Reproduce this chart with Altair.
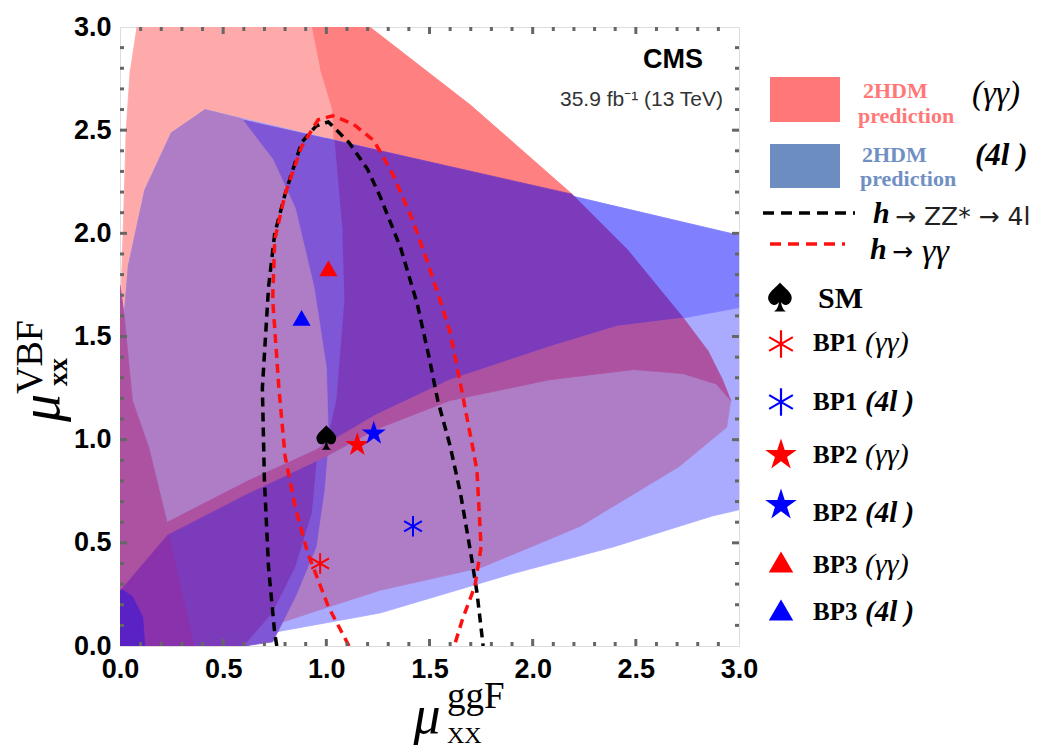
import altair as alt
import pandas as pd

# ---------------- axis data ----------------
AXIS_TICKS = [0.0, 0.5, 1.0, 1.5, 2.0, 2.5, 3.0]
MINOR_TICKS = [0.1, 0.2, 0.3, 0.4, 0.6, 0.7, 0.8, 0.9, 1.1, 1.2, 1.3, 1.4,
               1.6, 1.7, 1.8, 1.9, 2.1, 2.2, 2.3, 2.4, 2.6, 2.7, 2.8, 2.9]
MAJOR_TICKS = [0.5, 1.0, 1.5, 2.0, 2.5]

# ---------------- 2HDM prediction regions (painter's order) ----------------
PINK_X = [0.08, 1.21, 1.70, 2.19, 1.00, 0.41, 0.00, 0.005, 0.015, 0.03, 0.05]
PINK_Y = [3.00, 3.00, 2.62, 2.19, 2.20, 2.30, 1.50, 1.70, 2.00, 2.50, 2.80]

SALMON_X = [0.93, 1.21, 1.70, 2.19, 2.00, 1.04, 1.03, 0.97]
SALMON_Y = [3.00, 3.00, 2.62, 2.19, 2.10, 2.40, 2.60, 2.80]

LAVENDER_X = [0.41, 3.00, 3.00, 2.87, 2.39, 1.90, 1.26, 0.38, 0.00, 0.00, 0.02, 0.04, 0.12, 0.25]
LAVENDER_Y = [2.60, 1.99, 0.66, 0.63, 0.48, 0.35, 0.16, 0.00, 0.00, 1.45, 1.60, 1.84, 2.21, 2.49]

MEDBLUE_X = [1.00, 3.00, 3.00, 2.73, 1.00]
MEDBLUE_Y = [2.46, 1.99, 1.64, 1.59, 1.50]

VIOLET_UP_X = [0.55, 1.04, 1.09, 1.09, 1.05, 1.00, 0.90, 0.60]
VIOLET_UP_Y = [2.56, 2.45, 2.00, 1.68, 1.19, 0.97, 1.50, 2.40]

LOW_ELLIPSE_X = [0.00, 0.23, 0.62, 1.00, 1.24, 1.60, 2.08, 2.49, 2.73, 2.89, 2.96,
                 2.94, 2.71, 2.23, 1.75, 1.26, 0.95, 0.62, 0.30, 0.14, 0.00]
LOW_ELLIPSE_Y = [0.27, 0.54, 0.74, 0.92, 1.05, 1.19, 1.29, 1.34, 1.32, 1.27, 1.19,
                 1.06, 0.87, 0.58, 0.38, 0.27, 0.17, 0.06, 0.015, 0.00, 0.00]

LOW_LEFT_X = [0.00, 0.23, 0.62, 0.96, 0.93, 0.85, 0.74, 0.62, 0.00]
LOW_LEFT_Y = [0.30, 0.57, 0.78, 0.97, 0.64, 0.38, 0.16, 0.00, 0.00]

PURPLE2_X = [0.00, 0.23, 0.29, 0.36, 0.12, 0.00]
PURPLE2_Y = [0.30, 0.57, 0.30, 0.00, 0.00, 0.00]

DEEPBLUE_X = [0.00, 0.12, 0.11, 0.06, 0.00]
DEEPBLUE_Y = [0.00, 0.00, 0.14, 0.24, 0.28]

VIOLET_LOW_X = [0.96, 1.01, 0.99, 0.95, 0.85, 0.74, 0.60, 0.74, 0.85, 0.93]
VIOLET_LOW_Y = [0.97, 1.00, 0.76, 0.48, 0.24, 0.02, 0.00, 0.16, 0.38, 0.64]

LEFT_ELLIPSE_X = [0.41, 0.59, 0.74, 0.85, 0.94, 1.00, 1.01, 0.95, 0.62, 0.23,
                  0.14, 0.06, 0.02, 0.04, 0.12, 0.25]
LEFT_ELLIPSE_Y = [2.60, 2.555, 2.36, 2.12, 1.74, 1.35, 1.00, 0.95, 0.79, 0.59,
                  0.96, 1.19, 1.60, 1.84, 2.21, 2.49]

LEFT_STRIP_X = [0.00, 0.01, 0.02, 0.06, 0.14, 0.23, 0.00]
LEFT_STRIP_Y = [1.75, 1.68, 1.60, 1.19, 0.96, 0.59, 0.33]

CENTRAL_X = [1.04, 2.19, 2.46, 2.73, 2.41, 2.08, 1.60, 1.24, 1.00, 1.05, 1.09, 1.08]
CENTRAL_Y = [2.45, 2.19, 1.92, 1.59, 1.55, 1.45, 1.29, 1.12, 0.97, 1.19, 1.68, 2.00]

BAND_X = [0.00, 0.23, 0.62, 0.95, 1.24, 1.60, 2.08, 2.41, 2.73, 2.85, 2.92, 2.96,
          2.89, 2.73, 2.49, 2.08, 1.60, 1.24, 1.00, 0.62, 0.23, 0.00]
BAND_Y = [0.34, 0.60, 0.80, 0.95, 1.12, 1.29, 1.45, 1.55, 1.59, 1.43, 1.29, 1.19,
          1.27, 1.32, 1.34, 1.29, 1.19, 1.05, 0.92, 0.74, 0.54, 0.27]

# ---------------- measured contours ----------------
ZZ_X = [0.76, 0.75, 0.72, 0.70, 0.69, 0.72, 0.75, 0.80, 0.88, 0.95, 1.01, 1.11,
        1.20, 1.26, 1.36, 1.44, 1.50, 1.54, 1.60, 1.65, 1.70, 1.73, 1.76]
ZZ_Y = [0.00, 0.06, 0.38, 0.80, 1.25, 1.74, 2.00, 2.19, 2.44, 2.52, 2.54, 2.44,
        2.31, 2.18, 1.93, 1.66, 1.39, 1.19, 0.97, 0.74, 0.45, 0.26, 0.00]

GG_X = [1.11, 1.01, 0.91, 0.85, 0.80, 0.77, 0.74, 0.75, 0.80, 0.88, 0.96, 1.03, 1.13,
        1.23, 1.32, 1.42, 1.49, 1.55, 1.60, 1.65, 1.71, 1.73, 1.75, 1.72, 1.66, 1.62]
GG_Y = [0.00, 0.19, 0.45, 0.67, 0.92, 1.25, 1.68, 1.97, 2.19, 2.42, 2.55, 2.57, 2.53,
        2.45, 2.29, 2.06, 1.86, 1.68, 1.52, 1.27, 0.96, 0.85, 0.48, 0.29, 0.13, 0.00]

# ---------------- benchmark points ----------------
MARKER_NAMES = ["SM", "BP1 (γγ)", "BP1 (4l)", "BP2 (γγ)", "BP2 (4l)", "BP3 (γγ)", "BP3 (4l)"]
MARKER_X = [1.00, 0.97, 1.42, 1.15, 1.23, 1.01, 0.88]
MARKER_Y = [1.01, 0.40, 0.58, 0.975, 1.03, 1.83, 1.59]

BP_LABELS = ["BP1", "BP1", "BP2", "BP2", "BP3", "BP3"]
BP_CHANNELS = ["(γγ)", "(4l )", "(γγ)", "(4l )", "(γγ)", "(4l )"]

# ---------------- styling ----------------
SPADE = ("M0,-1 C0.35,-0.55 1,-0.25 0.75,0.3 C0.55,0.7 0.15,0.55 0.08,0.35 "
         "C0.1,0.7 0.25,0.9 0.4,1 L-0.4,1 C-0.25,0.9 -0.1,0.7 -0.08,0.35 "
         "C-0.15,0.55 -0.55,0.7 -0.75,0.3 C-1,-0.25 -0.35,-0.55 0,-1 Z")
STAR = ("M0,-1L0.2245,-0.309L0.951,-0.309L0.3633,0.118L0.5878,0.809L0,0.382"
        "L-0.5878,0.809L-0.3633,0.118L-0.951,-0.309L-0.2245,-0.309Z")
ASTER = "M0,-1L0,1M-0.866,-0.5L0.866,0.5M-0.866,0.5L0.866,-0.5"

W = 619
H = 619

X = alt.X("x:Q", scale=alt.Scale(domain=[0, 3], nice=False, zero=False),
          axis=alt.Axis(values=AXIS_TICKS, format=".1f", ticks=False, domain=False, grid=False,
                        labelFont="Liberation Sans", labelFontWeight="bold", labelFontSize=27,
                        labelColor="black", labelPadding=10, labelFlush=False,
                        labelOverlap=False, title=None))
Y = alt.Y("y:Q", scale=alt.Scale(domain=[0, 3], nice=False, zero=False),
          axis=alt.Axis(values=AXIS_TICKS, format=".1f", ticks=False, domain=False, grid=False,
                        labelFont="Liberation Sans", labelFontWeight="bold", labelFontSize=27,
                        labelColor="black", labelPadding=9, labelFlush=False,
                        labelOverlap=False, title=None))


def poly(xs, ys, color):
    df = pd.DataFrame({"x": xs, "y": ys, "i": list(range(len(xs)))})
    return alt.Chart(df).mark_line(fill=color, stroke=color, strokeWidth=0.8,
                                   strokeJoin="round", clip=True).encode(
        x=X, y=Y, order="i:Q")


def curve(xs, ys, color):
    df = pd.DataFrame({"x": xs, "y": ys, "i": list(range(len(xs)))})
    return alt.Chart(df).mark_line(color=color, strokeWidth=3.5, strokeDash=[9, 6],
                                   clip=True).encode(x=X, y=Y, order="i:Q")


def txt(label, px, py, **style):
    return alt.Chart(pd.DataFrame({"t": [label]})).mark_text(**style).encode(
        text="t:N", x=alt.value(px), y=alt.value(py))


layers = [
    poly(PINK_X, PINK_Y, "#FFAAAA"),
    poly(SALMON_X, SALMON_Y, "#FF8080"),
    poly(LAVENDER_X, LAVENDER_Y, "#AAAAFF"),
    poly(MEDBLUE_X, MEDBLUE_Y, "#8080FF"),
    poly(VIOLET_UP_X, VIOLET_UP_Y, "#7F56D6"),
    poly(LOW_ELLIPSE_X, LOW_ELLIPSE_Y, "#AE7DC6"),
    poly(LOW_LEFT_X, LOW_LEFT_Y, "#7C3BBB"),
    poly(PURPLE2_X, PURPLE2_Y, "#8A32AC"),
    poly(DEEPBLUE_X, DEEPBLUE_Y, "#5A22C4"),
    poly(VIOLET_LOW_X, VIOLET_LOW_Y, "#7F56D6"),
    poly(LEFT_ELLIPSE_X, LEFT_ELLIPSE_Y, "#AE7DC6"),
    poly(LEFT_STRIP_X, LEFT_STRIP_Y, "#AD52A1"),
    poly(CENTRAL_X, CENTRAL_Y, "#7C3BBB"),
    poly(BAND_X, BAND_Y, "#AD52A1"),
    curve(ZZ_X, ZZ_Y, "black"),
    curve(GG_X, GG_Y, "#FF1010"),
]

# frame ticks
minor_x = pd.DataFrame({"x": MINOR_TICKS})
minor_y = pd.DataFrame({"y": MINOR_TICKS})
major_x = pd.DataFrame({"x": MAJOR_TICKS})
major_y = pd.DataFrame({"y": MAJOR_TICKS})
tick_style = dict(color="#666666", strokeWidth=3)
layers += [
    alt.Chart(minor_x).mark_rule(**tick_style).encode(x=X, y=alt.value(H), y2=alt.value(H - 4)),
    alt.Chart(minor_x).mark_rule(**tick_style).encode(x=X, y=alt.value(0), y2=alt.value(4)),
    alt.Chart(minor_y).mark_rule(**tick_style).encode(y=Y, x=alt.value(0), x2=alt.value(4)),
    alt.Chart(minor_y).mark_rule(**tick_style).encode(y=Y, x=alt.value(W), x2=alt.value(W - 4)),
    alt.Chart(major_x).mark_rule(**tick_style).encode(x=X, y=alt.value(H), y2=alt.value(H - 7)),
    alt.Chart(major_x).mark_rule(**tick_style).encode(x=X, y=alt.value(0), y2=alt.value(7)),
    alt.Chart(major_y).mark_rule(**tick_style).encode(y=Y, x=alt.value(0), x2=alt.value(7)),
    alt.Chart(major_y).mark_rule(**tick_style).encode(y=Y, x=alt.value(W), x2=alt.value(W - 7)),
]

# benchmark markers in the plot
mk = pd.DataFrame({"name": MARKER_NAMES, "x": MARKER_X, "y": MARKER_Y})


def marker(name, shape, color, size, filled=True, sw=1):
    return alt.Chart(mk).transform_filter(alt.datum.name == name).mark_point(
        shape=shape, filled=filled, color=color, size=size, opacity=1,
        strokeWidth=sw).encode(x=X, y=Y)


layers += [
    marker("SM", SPADE, "black", 600),
    marker("BP1 (γγ)", ASTER, "#FF0000", 420, filled=False, sw=2),
    marker("BP1 (4l)", ASTER, "#0000FF", 420, filled=False, sw=2),
    marker("BP2 (γγ)", STAR, "#FF0000", 640),
    marker("BP2 (4l)", STAR, "#0000FF", 640),
    marker("BP3 (γγ)", "triangle-up", "#FF0000", 330),
    marker("BP3 (4l)", "triangle-up", "#0000FF", 330),
]

# CMS label
layers += [
    txt("CMS", 583, 41, font="Liberation Sans", fontWeight="bold", fontSize=27,
        align="right", baseline="alphabetic", color="black"),
    txt("35.9 fb⁻¹ (13 TeV)", 603, 79, font="Liberation Sans", fontSize=21,
        align="right", baseline="alphabetic", color="#333333"),
]

# axis titles (mu with sub/superscripts)
serif = "Liberation Serif"
layers += [
    txt("μ", -61, 381, font=serif, fontStyle="italic", fontSize=56, angle=270,
        align="center", baseline="alphabetic", color="black"),
    txt("VBF", -78, 330, font=serif, fontSize=38, angle=270,
        align="center", baseline="alphabetic", color="black"),
    txt("xx", -53, 345, font=serif, fontWeight="bold", fontSize=28, angle=270,
        align="center", baseline="alphabetic", color="black"),
    txt("μ", 307, 706, font=serif, fontStyle="italic", fontSize=54,
        align="center", baseline="alphabetic", color="black"),
    txt("ggF", 327, 681, font=serif, fontSize=37,
        align="left", baseline="alphabetic", color="black"),
    txt("XX", 327, 716, font=serif, fontSize=24,
        align="left", baseline="alphabetic", color="black"),
]

# ---------------- legend ----------------
one = pd.DataFrame({"k": [0]})
layers += [
    alt.Chart(one).mark_rect(color="#FF7777").encode(
        x=alt.value(650), x2=alt.value(720), y=alt.value(50), y2=alt.value(95)),
    txt("2HDM", 743, 64, font=serif, fontWeight="bold", fontSize=22, align="left",
        baseline="middle", color="#FF7777"),
    txt("prediction", 738, 89, font=serif, fontWeight="bold", fontSize=22, align="left",
        baseline="middle", color="#FF7777"),
    txt("(γγ)", 852, 67, font=serif, fontStyle="italic", fontSize=33, align="left",
        baseline="middle", color="black"),
    alt.Chart(one).mark_rect(color="#6B8DC0").encode(
        x=alt.value(650), x2=alt.value(720), y=alt.value(117), y2=alt.value(161)),
    txt("2HDM", 742, 128, font=serif, fontWeight="bold", fontSize=22, align="left",
        baseline="middle", color="#7090C4"),
    txt("prediction", 740, 152, font=serif, fontWeight="bold", fontSize=22, align="left",
        baseline="middle", color="#7090C4"),
    txt("(4l )", 855, 129, font=serif, fontStyle="italic", fontWeight="bold", fontSize=31,
        align="left", baseline="middle", color="black"),
    alt.Chart(one).mark_rule(color="black", strokeWidth=3.5, strokeDash=[11, 7]).encode(
        x=alt.value(643), x2=alt.value(735), y=alt.value(186)),
    txt("h", 753, 187, font=serif, fontStyle="italic", fontWeight="bold", fontSize=30,
        align="left", baseline="middle", color="black"),
    txt("→ ZZ* → 4l", 775, 190, font="DejaVu Sans", fontSize=25, align="left",
        baseline="middle", color="#222222"),
    alt.Chart(one).mark_rule(color="#FF1010", strokeWidth=3.5, strokeDash=[11, 7]).encode(
        x=alt.value(650), x2=alt.value(725), y=alt.value(217)),
    txt("h", 750, 223, font=serif, fontStyle="italic", fontWeight="bold", fontSize=30,
        align="left", baseline="middle", color="black"),
    txt("→", 772, 225, font="DejaVu Sans", fontSize=25, align="left",
        baseline="middle", color="black"),
    txt("γγ", 802, 225, font=serif, fontStyle="italic", fontSize=34, align="left",
        baseline="middle", color="black"),
    alt.Chart(one).mark_point(shape=SPADE, filled=True, color="black", size=850,
                              opacity=1).encode(x=alt.value(660), y=alt.value(270)),
    txt("SM", 698, 272, font=serif, fontWeight="bold", fontSize=30, align="left",
        baseline="middle", color="black"),
]

LEG_MARK_Y = [317, 375, 428, 478, 535, 583]
LEG_TEXT_Y = [316, 375, 428, 486, 538, 585]
leg_shapes = [ASTER, ASTER, STAR, STAR, "triangle-up", "triangle-up"]
leg_colors = ["#FF0000", "#0000FF", "#FF0000", "#0000FF", "#FF0000", "#0000FF"]
leg_sizes = [750, 750, 1100, 1100, 600, 600]
for i in range(6):
    filled = leg_shapes[i] != ASTER
    layers.append(alt.Chart(one).mark_point(
        shape=leg_shapes[i], filled=filled, color=leg_colors[i], size=leg_sizes[i],
        opacity=1, strokeWidth=2.2).encode(x=alt.value(661), y=alt.value(LEG_MARK_Y[i])))
    layers.append(txt(BP_LABELS[i], 693, LEG_TEXT_Y[i], font=serif, fontWeight="bold",
                      fontSize=25, align="left", baseline="middle", color="black"))
    if BP_CHANNELS[i] == "(γγ)":
        layers.append(txt(BP_CHANNELS[i], 745, LEG_TEXT_Y[i], font=serif, fontStyle="italic",
                          fontSize=30, align="left", baseline="middle", color="black"))
    else:
        layers.append(txt(BP_CHANNELS[i], 745, LEG_TEXT_Y[i], font=serif, fontStyle="italic",
                          fontWeight="bold", fontSize=29, align="left", baseline="middle",
                          color="black"))

chart = alt.layer(*layers).properties(
    width=W, height=H,
    autosize=alt.AutoSizeParams(type="none"),
    padding={"left": 120, "top": 27, "right": 319, "bottom": 101},
).configure_view(stroke="black", strokeWidth=3).configure(background="white")

chart.save("out.html", embed_options={"renderer": "svg", "actions": False})
